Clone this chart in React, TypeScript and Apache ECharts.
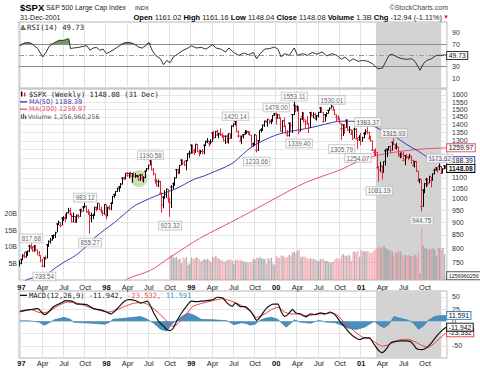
import React, { useEffect, useRef } from "react";
import * as echarts from "echarts";

// ---------- categories: weekly bars (week starting Monday) ----------
const weeks: string[] = [];
{
  const d = new Date(Date.UTC(1996, 11, 30));
  for (let i = 0; i < 262; i++) {
    weeks.push(d.toISOString().slice(0, 10));
    d.setUTCDate(d.getUTCDate() + 7);
  }
}
const MON = ["Jan", "Feb", "Mar", "Apr", "May", "Jun", "Jul", "Aug", "Sep", "Oct", "Nov", "Dec"];

// ---------- weekly price data ----------
const closes = [
  748,760,776,770,786,790,808,802,791,805,793,784,774,758,738,766,765,813,825,830,847,848,858,893,899,887,917,917,915,939,947,934,901,924,899,929,924,951,945,965,967,944,942,915,928,928,963,955,980,953,947,936,
  975,928,962,958,980,1012,1020,1034,1049,1056,1069,1099,1095,1123,1111,1123,1108,1121,1108,1109,1110,1091,1114,1099,1101,1133,1146,1164,1187,1141,1121,1089,1063,1081,1027,974,1009,1020,1045,1003,984,1056,1071,1099,1141,1126,1164,1192,1177,1166,1188,1226,1229,
  1275,1243,1235,1280,1239,1230,1239,1238,1275,1295,1299,1283,1294,1348,1319,1357,1335,1345,1338,1330,1302,1328,1294,1343,1315,1391,1403,1419,1357,1329,1300,1328,1337,1348,1357,1352,1335,1277,1283,1336,1247,1302,1363,1370,1396,1422,1417,1433,1417,1421,1458,1469,
  1441,1465,1441,1360,1424,1387,1346,1333,1409,1395,1464,1527,1499,1516,1357,1435,1452,1433,1421,1407,1378,1477,1457,1464,1441,1455,1479,1510,1480,1420,1463,1472,1492,1506,1521,1495,1466,1449,1437,1409,1374,1397,1380,1427,1366,1368,1342,1315,1370,1312,1306,1320,
  1298,1319,1343,1355,1349,1315,1302,1246,1234,1233,1151,1140,1160,1128,1184,1243,1253,1267,1246,1292,1278,1261,1265,1214,1225,1224,1191,1216,1211,1206,1214,1190,1162,1185,1134,1086,1093,966,1041,1071,1092,1073,1105,1087,1120,1139,1150,1139,1158,1123,1145,1161,1148.08,
];
const highs = [
  757,763,777,787,787,791,812,818,807,812,812,796,790,775,762,767,774,813,829,838,848,851,862,893,906,900,918,925,936,941,960,961,936,940,925,932,932,956,958,967,983,970,955,945,940,935,964,966,982,980,966,950,
  976,975,965,972,985,1013,1024,1035,1052,1060,1074,1101,1105,1124,1129,1124,1131,1122,1130,1123,1114,1111,1116,1120,1108,1137,1150,1167,1191,1188,1150,1122,1093,1092,1085,1028,1010,1040,1047,1045,1003,1064,1077,1103,1142,1146,1165,1193,1193,1189,1190,1229,1244,
  1278,1275,1255,1283,1282,1250,1248,1253,1277,1300,1316,1300,1310,1350,1362,1360,1368,1347,1375,1348,1334,1330,1339,1344,1345,1392,1407,1420,1419,1362,1332,1331,1339,1366,1362,1360,1359,1336,1290,1338,1336,1304,1363,1374,1398,1424,1425,1436,1430,1435,1460,1474,
  1478,1466,1465,1445,1425,1445,1395,1365,1410,1413,1466,1553,1527,1527,1517,1440,1482,1480,1432,1455,1410,1478,1484,1480,1476,1462,1482,1512,1517,1482,1465,1480,1496,1512,1530,1522,1497,1466,1460,1445,1410,1400,1400,1432,1432,1390,1368,1365,1380,1378,1320,1334,
  1347,1325,1354,1370,1383,1355,1330,1303,1250,1257,1236,1160,1183,1162,1184,1253,1253,1268,1272,1294,1316,1280,1287,1265,1234,1237,1236,1218,1225,1215,1226,1215,1193,1186,1188,1136,1096,1093,1042,1075,1100,1098,1111,1105,1121,1146,1152,1151,1174,1160,1148,1164,1161,
];
const lows = [
  737,744,758,765,766,773,786,795,787,788,789,775,771,750,737,734,759,764,805,817,828,835,838,860,888,879,887,905,900,914,936,927,900,900,898,899,915,922,940,945,959,940,930,855,900,912,928,945,953,950,936,925,
  931,912,924,950,950,977,1005,1014,1032,1033,1050,1067,1090,1093,1106,1098,1103,1076,1104,1100,1102,1085,1085,1083,1077,1099,1133,1142,1164,1138,1112,1072,1058,1055,1020,940,958,1000,1005,983,923,960,1044,1061,1098,1117,1121,1164,1165,1160,1138,1188,1204,
  1227,1226,1220,1232,1237,1212,1225,1224,1223,1269,1287,1267,1280,1294,1310,1317,1329,1315,1330,1318,1295,1282,1288,1284,1310,1315,1384,1394,1351,1320,1297,1281,1314,1337,1342,1336,1332,1263,1268,1276,1234,1242,1296,1351,1360,1385,1410,1387,1405,1403,1418,1455,
  1400,1438,1436,1357,1350,1386,1344,1325,1325,1355,1347,1461,1480,1485,1339,1356,1430,1413,1375,1400,1346,1378,1452,1440,1430,1425,1445,1475,1478,1412,1420,1450,1470,1490,1505,1490,1460,1421,1426,1407,1306,1330,1342,1380,1360,1347,1335,1306,1315,1310,1254,1300,
  1275,1295,1315,1337,1340,1307,1295,1242,1215,1214,1148,1081,1131,1091,1126,1163,1208,1245,1232,1244,1275,1250,1250,1210,1202,1203,1186,1165,1198,1191,1200,1171,1158,1153,1130,1085,1073,945,965,1026,1055,1060,1073,1054,1085,1117,1136,1126,1139,1119,1123,1144,1148,
];

// weekly volume in billions, starting at week index volStartIdx
const volStartIdx = 92;
const volumesB = [
  7.2,7.5,6.8,6.6,7.0,6.2,6.5,5.0,6.8,6.5,6.9,4.6,5.0,
  6.8,6.5,6.4,6.9,6.6,6.2,5.6,6.0,6.3,6.1,6.4,5.9,5.4,7.0,6.8,7.2,6.6,6.4,6.0,5.9,5.5,5.6,6.2,6.0,6.3,5.8,4.8,6.0,6.2,5.9,6.1,5.8,5.7,5.3,5.5,5.1,5.4,5.5,6.4,6.2,6.8,6.5,7.0,6.6,6.4,6.3,4.9,6.6,6.2,6.7,5.0,4.6,
  7.2,6.8,6.6,7.3,7.4,6.9,6.8,7.0,7.6,7.3,8.2,8.6,8.0,8.8,9.2,7.0,6.9,7.2,6.9,6.5,6.3,6.6,6.2,6.4,6.1,5.9,5.6,6.3,6.4,6.2,5.7,5.8,5.5,5.2,5.4,5.6,6.3,6.6,6.5,6.3,7.4,7.8,7.3,7.2,7.6,7.4,5.8,8.4,8.6,8.2,8.8,7.0,
  9.0,8.6,8.8,8.5,8.7,8.3,8.1,8.4,9.0,9.2,9.8,10.4,9.6,10.0,10.2,9.6,9.3,8.8,9.0,8.6,7.4,8.4,8.3,8.9,8.6,7.7,6.9,7.6,7.4,7.6,7.2,7.0,7.3,7.6,6.9,8.4,2.1,15.6,
  10.4,9.6,9.4,9.2,9.4,9.3,9.6,9.1,7.2,9.8,9.6,9.0,9.7,7.8,1.25696,
];

// moving averages: [week index, value]
const ma50Pts: [number, number][] = [
  [3,690],[6,697],[15,706],[21,729],[27,751],[34,774],[40,803],[46,840],[52,870],[58,899],[64,934],[70,968],[76,990],[83,1013],[89,1029],[95,1045],[101,1069],[107,1094],[113,1110],[119,1131],[125,1152],[131,1180],[135,1212],[141,1258],[147,1292],[153,1320],[159,1342],[165,1356],[171,1367],[177,1378],[183,1392],[190,1410],[196,1421],[202,1421],[207,1418],[213,1407],[219,1377],[225,1348],[231,1317],[237,1278],[244,1241],[250,1206],[255,1192],[261,1188.39],
];
const ma200Pts: [number, number][] = [
  [62,680],[66,697],[80,724],[92,768],[110,836],[135,920],[155,997],[175,1077],[196,1140],[206,1180],[216,1211],[223,1225],[230,1236],[238,1246],[246,1253],[254,1257],[261,1259.97],
];

// peak / trough annotations
const annIdx = [7, 15, 40, 43, 80, 92, 132, 145, 157, 168, 171, 191, 197, 207, 213, 220, 229, 246, 257];
const annVal = [817.68, 733.54, 983.12, 855.27, 1190.58, 923.32, 1420.14, 1233.66, 1478.0, 1553.11, 1339.4, 1530.01, 1305.79, 1254.07, 1383.37, 1081.19, 1315.93, 944.75, 1173.62];
const annSide = ["top","bottom","top","bottom","top","bottom","top","bottom","top","top","bottom","top","bottom","bottom","top","bottom","top","bottom","top"];
const circlePt: [number, number] = [73, 1095];

// RSI(14)
const rsiPts: [number, number][] = [
  [0,66.5],[3,72],[6,72.5],[8,69],[11,62],[14,47],[16,55],[18,66],[21,72],[24,76.5],[27,76.5],[29,79],[30,79],[31,62],[33,63],[36,64],[39,66],[41,67],[43,59],[45,63],[47,64],[49,59],[51,61],[53,53],[55,56],[58,61],[61,67],[64,72],[67,73],[70,70],[73,64],[75,63],[77,67],[79,72.5],[81,59],[83,50],[86,44],[88,33.5],[90,41],[92,37],[94,47],[97,53],[100,59],[103,63],[105,67],[108,63],[111,64],[114,61],[118,69],[120,63],[123,61],[126,56],[128,63],[131,55],[134,50],[137,54],[140,51],[143,55],[145,44],[147,53],[150,61],[153,62],[156,64.5],[158,61],[160,47],[162,53],[165,50],[168,63],[170,50],[173,53],[176,50],[179,55],[182,52],[185,56],[188,49],[191,53],[194,50],[197,43],[199,47],[202,39.5],[204,44],[207,39.5],[210,41],[213,39.5],[216,35],[219,26.5],[222,27.5],[224,39],[226,50],[228,52],[231,47],[234,44],[237,43],[240,44],[242,39],[245,23.6],[247,35],[249,41],[252,44],[255,50],[258,50],[260,51],[261,49.73],
];

// MACD(12,26,9)
const macdPts: [number, number][] = [
  [0,20.4],[6,23.7],[11,26],[15,13.5],[17,17],[21,30.6],[25,37],[28,42],[32,41],[35,35],[38,35],[41,34],[45,25.8],[49,23.7],[53,19],[56,15],[58,20],[61,30.6],[64,40.8],[67,44],[71,42],[74,37],[78,41],[82,17],[85,0],[88,-10],[90,-17],[92,-19],[94,-13.7],[96,0],[99,17],[102,30.6],[105,41],[108,40],[111,41],[114,42],[118,44],[121,49],[124,48],[127,37],[130,30.6],[132,37],[135,30],[138,30],[141,21.6],[143,12],[145,2],[147,8],[151,27],[155,35],[158,35],[160,20],[162,10],[164,13.6],[167,23.7],[169,17],[172,15],[175,9],[178,15],[181,13.6],[184,17],[187,15],[190,19],[193,13],[196,0],[199,-12],[202,-24],[205,-32.7],[208,-37.4],[211,-34],[214,-34],[217,-47.6],[220,-61],[222,-64],[224,-58],[227,-44],[230,-41],[233,-40],[236,-40],[239,-41],[241,-47.6],[243,-56],[246,-58],[249,-54],[252,-44],[255,-30.6],[259,-17],[261,-11.942],
];
const signalPts: [number, number][] = [
  [0,19],[7,23.7],[13,17],[17,19],[23,30.6],[29,39.4],[35,37],[41,30.6],[47,23.7],[54,19],[58,21.5],[64,30],[70,37],[75,38],[78,35],[84,20],[90,0],[93,-10],[96,-7],[99,3],[102,15],[106,30.6],[112,37],[118,42],[124,46],[131,39.4],[137,30],[141,20.4],[145,8],[150,15],[154,23.7],[158,28.6],[162,19],[166,15],[170,15],[174,12],[178,12],[182,15],[186,15],[190,17],[194,13.6],[198,0],[202,-12],[206,-23.8],[210,-32.7],[214,-35.4],[218,-44],[222,-51],[226,-47.6],[230,-41],[234,-37],[238,-37],[242,-42],[246,-49],[250,-53],[254,-44],[259,-29],[261,-23.532],
];
const histPts: [number, number][] = [
  [0,1],[6,1],[12,-2],[15,-8],[18,-3],[21,3],[27,8],[31,4],[33,-2],[38,-3],[44,-4],[52,-6],[55,-2],[57,4],[64,6],[74,10],[78,4],[82,-4],[86,-16],[90,-20],[93,-6],[96,2],[100,12],[103,17],[107,12],[111,4],[119,3],[127,1],[131,-7],[136,-3],[139,-5],[141,-8],[144,-6],[147,2],[150,6],[154,8],[158,4],[161,-6],[163,-12],[166,-4],[168,3],[172,-2],[178,-4],[183,2],[188,-2],[193,-3],[197,-8],[201,-14],[206,-17],[211,-12],[215,-4],[217,0],[220,-8],[223,-13],[226,-6],[229,10],[233,6],[238,2],[241,-4],[244,-16],[247,-10],[250,2],[254,10],[258,12],[261,11.591],
];

// ticks & header values
const priceGridTicks = [750,800,850,900,950,1000,1050,1100,1150,1200,1250,1300,1350,1400,1450,1500,1550,1600];
const priceLabelTicks = [750,800,850,900,950,1000,1050,1100,1300,1350,1400,1450,1500,1550,1600];
const rsiTicks = [10, 30, 70, 90];
const macdTicks = [50, 25, 0, -50];
const volTicks = [5, 10, 15, 20];
const shadeFrom = 218;
const shadeTo = 258;
const hdr = { open: "1161.02", high: "1161.16", low: "1148.04", close: "1148.08", volume: "1.3B", chg: "-12.94 (-1.11%)", date: "31-Dec-2001" };
const lastVolume = "1256960256";

const AF = "Liberation Sans";
const SF = "DejaVu Sans";
const MF = "DejaVu Sans Mono";
const UP = "#000";
const DOWN = "#e0283a";
const BLUE = "#3a3ab0";
const PINK = "#e8506e";
const L = (v: number) => Math.log10(v);

const monthOf = (s: string) => +s.slice(5, 7) - 1;
const isQuarterStart = (idx: number) =>
  idx > 0 && monthOf(weeks[idx]) !== monthOf(weeks[idx - 1]) && monthOf(weeks[idx]) % 3 === 0;

function box(text: string, border: string, bold = false, size = 6.8) {
  return {
    show: true,
    formatter: text,
    distance: 1,
    fontFamily: AF,
    fontSize: size,
    fontWeight: bold ? "bold" : "normal",
    color: "#111",
    backgroundColor: "#fff",
    borderColor: border,
    borderWidth: 1,
    padding: [0, 1.5, 0, 1.5],
    lineHeight: 7,
  };
}

function buildOption(): any {
  const grids = [
    { left: 19, right: 33, top: 22, height: 66 },
    { left: 19, right: 33, top: 89, height: 191 },
    { left: 19, right: 33, top: 291, height: 67 },
  ].map((g) => ({ ...g, show: true, borderColor: "#b4b4b4", borderWidth: 1, backgroundColor: "rgba(0,0,0,0)" }));

  const xAxes = [0, 1, 2].map((g) => ({
    type: "category",
    gridIndex: g,
    data: weeks,
    boundaryGap: true,
    axisLine: { show: false },
    axisTick: { show: false },
    axisLabel: {
      show: g > 0,
      interval: (idx: number) => isQuarterStart(idx),
      formatter: (v: string) => {
        const m = monthOf(v);
        return m === 0 ? `{y|${v.slice(2, 4)}}` : `{m|${MON[m]}}`;
      },
      margin: g === 1 ? 3 : 1.5,
      rich: {
        y: { fontFamily: AF, fontSize: 7.5, fontWeight: "bold", color: "#111" },
        m: { fontFamily: AF, fontSize: 7.5, color: "#222" },
      },
    },
    splitLine: { show: true, interval: (idx: number) => isQuarterStart(idx), lineStyle: { color: "#e3e3e3", width: 1 } },
  }));

  const tickLabel = { fontFamily: AF, fontSize: 7, color: "#333", margin: 5 };
  const yAxes = [
    {
      type: "value", gridIndex: 0, position: "right", min: -7.6, max: 108.8,
      axisLine: { show: false }, axisTick: { show: false, customValues: [10, 30, 50, 70, 90] },
      axisLabel: { ...tickLabel, customValues: rsiTicks },
      splitLine: { show: false },
    },
    {
      type: "value", gridIndex: 1, position: "right", min: 2.8407, max: 3.2159,
      axisLine: { show: false }, axisTick: { show: false, customValues: priceGridTicks.map(L) },
      axisLabel: { ...tickLabel, customValues: priceLabelTicks.map(L), formatter: (v: number) => String(Math.round(Math.pow(10, v))) },
      splitLine: { show: true, lineStyle: { color: "#e6e6e6", width: 1 } },
    },
    {
      type: "value", gridIndex: 1, position: "left", min: 0, max: 57.5,
      axisLine: { show: false }, axisTick: { show: false, customValues: volTicks },
      axisLabel: { ...tickLabel, margin: 2, customValues: volTicks, formatter: (v: number) => `${v}B` },
      splitLine: { show: false },
    },
    {
      type: "value", gridIndex: 2, position: "right", min: -74.9, max: 61.8,
      axisLine: { show: false }, axisTick: { show: false, customValues: [50, 25, 0, -25, -50] },
      axisLabel: { ...tickLabel, customValues: macdTicks },
      splitLine: { show: true, lineStyle: { color: "#e6e6e6", width: 1 } },
    },
  ];

  const shade = (xi: number, yi: number) => ({
    type: "line", xAxisIndex: xi, yAxisIndex: yi, data: [], silent: true, z: 1,
    markArea: { silent: true, itemStyle: { color: "#d3d3d3" }, data: [[{ xAxis: weeks[shadeFrom] }, { xAxis: weeks[shadeTo] }]] },
  });

  const candleData = closes.map((c, i) => [L(c), L(c), L(lows[i]), L(highs[i])]);
  const volData = weeks.map((_, i) =>
    i < volStartIdx
      ? "-"
      : {
          value: volumesB[i - volStartIdx],
          itemStyle: { color: closes[i] >= closes[i - 1] ? "rgba(150,150,150,0.7)" : "rgba(238,140,152,0.65)" },
        }
  );
  const volLine = weeks.map((_, i) => (i < volStartIdx ? "-" : volumesB[i - volStartIdx]));

  const series: any[] = [
    shade(0, 0),
    shade(1, 1),
    shade(2, 3),
    // RSI
    {
      type: "line", xAxisIndex: 0, yAxisIndex: 0, z: 3, silent: true,
      data: rsiPts.map(([i, v]) => [i, Math.max(v, 70)]),
      symbol: "none", lineStyle: { width: 0 }, areaStyle: { origin: 70, color: "#6e9c60", opacity: 1 },
    },
    {
      type: "line", xAxisIndex: 0, yAxisIndex: 0, z: 4, silent: true,
      data: rsiPts, symbol: "none", lineStyle: { color: "#333", width: 1 },
      endLabel: box("49.73", "#333"),
      markLine: {
        silent: true, z: 3, symbol: ["none", "none"], label: { show: false },
        lineStyle: { color: "#8c8c8c", width: 1, type: "solid" },
        data: [{ yAxis: 70 }, { yAxis: 30 }, { yAxis: 50, lineStyle: { type: [5, 2, 1, 2], color: "#9a9a9a" } }],
      },
    },
    // volume
    {
      type: "bar", xAxisIndex: 1, yAxisIndex: 2, z: 2, silent: true, data: volData, barCategoryGap: "15%",
    },
    {
      type: "line", xAxisIndex: 1, yAxisIndex: 2, z: 2, silent: true, data: volLine, symbol: "none",
      lineStyle: { opacity: 0 }, endLabel: box(lastVolume, "#555", false, 5.4),
    },
    // moving averages
    {
      type: "line", xAxisIndex: 1, yAxisIndex: 1, z: 3, silent: true, smooth: 0.3,
      data: ma200Pts.map(([i, p]) => [i, L(p)]), symbol: "none", lineStyle: { color: PINK, width: 1 },
      endLabel: box("1259.97", PINK),
    },
    {
      type: "line", xAxisIndex: 1, yAxisIndex: 1, z: 3, silent: true, smooth: 0.3,
      data: ma50Pts.map(([i, p]) => [i, L(p)]), symbol: "none", lineStyle: { color: BLUE, width: 1 },
      endLabel: box("1188.39", BLUE),
    },
    // annotation circle
    {
      type: "scatter", xAxisIndex: 1, yAxisIndex: 1, z: 3, silent: true,
      data: [[circlePt[0], L(circlePt[1])]], symbolSize: 17, itemStyle: { color: "rgba(140,196,100,0.62)" },
    },
    // price bars
    {
      type: "candlestick", xAxisIndex: 1, yAxisIndex: 1, z: 4, silent: true, data: candleData, barWidth: 2,
      itemStyle: { color: UP, color0: DOWN, borderColor: UP, borderColor0: DOWN, borderWidth: 1 },
    },
    {
      type: "line", xAxisIndex: 1, yAxisIndex: 1, z: 5, silent: true,
      data: closes.map((c, i) => [i, L(c)]), symbol: "none", lineStyle: { opacity: 0 },
      endLabel: box("1148.08", "#000", true),
    },
    // peak/trough labels
    {
      type: "scatter", xAxisIndex: 1, yAxisIndex: 1, z: 6, silent: true, symbolSize: 0.1,
      itemStyle: { color: "rgba(0,0,0,0)" },
      data: annIdx.map((i, k) => ({
        value: [i, L(annVal[k])],
        name: annVal[k].toFixed(2),
        label: { position: annSide[k], distance: annSide[k] === "top" ? 1 : 5 },
      })),
      label: {
        show: true, formatter: "{b}", fontFamily: AF, fontSize: 6.3, color: "#333",
        backgroundColor: "rgba(255,255,255,0.92)", borderColor: "#b8b8b8", borderWidth: 0.8,
        padding: [0.5, 1.5, 0, 1.5], lineHeight: 7.5,
      },
    },
    // MACD
    {
      type: "line", xAxisIndex: 2, yAxisIndex: 3, z: 2, silent: true,
      data: histPts, symbol: "none", lineStyle: { color: "#2f78a8", width: 0.6 },
      areaStyle: { color: "#4a8fbd", opacity: 1 },
      endLabel: box("11.591", "#3a8ac0"),
    },
    {
      type: "line", xAxisIndex: 2, yAxisIndex: 3, z: 3, silent: true,
      data: signalPts, symbol: "none", smooth: 0.2, lineStyle: { color: "#f03c3c", width: 1 },
      endLabel: box("-23.532", "#f03c3c"),
    },
    {
      type: "line", xAxisIndex: 2, yAxisIndex: 3, z: 4, silent: true,
      data: macdPts, symbol: "none", smooth: 0.2, lineStyle: { color: "#111", width: 1.2 },
      endLabel: box("-11.942", "#111"),
    },
  ];

  const t = (x: number, y: number, text: string, font: string, fill = "#111", align = "left") => ({
    type: "text", x, y, silent: true, z: 10,
    style: { text, font, fill, textAlign: align, textVerticalAlign: "middle" },
  });
  const hdrRich = {
    b: { fontFamily: AF, fontSize: 7.5, fontWeight: "bold", fill: "#000" },
    n: { fontFamily: AF, fontSize: 7.5, fill: "#222" },
  };
  const hdrText =
    `{b|Open} {n|${hdr.open}} {b|High} {n|${hdr.high}} {b|Low} {n|${hdr.low}} {b|Close} {n|${hdr.close}} ` +
    `{b|Volume} {n|${hdr.volume}} {b|Chg} {n|${hdr.chg}}`;

  const graphic: any[] = [
    t(20, 7.5, "$SPX", `bold 9.5px "${AF}"`, "#000"),
    t(46, 7.5, "S&P 500 Large Cap Index", `6.9px "${AF}"`, "#222"),
    t(135, 7.5, "INDX", `5.8px "${AF}"`, "#222"),
    t(448, 7.5, "©StockCharts.com", `7px "${AF}"`, "#444", "right"),
    t(20, 17.5, hdr.date, `7px "${AF}"`, "#222"),
    {
      type: "text", x: 442, y: 17.5, silent: true, z: 10,
      style: { text: hdrText, rich: hdrRich, textAlign: "right", textVerticalAlign: "middle", font: `7.5px "${AF}"` },
    },
    { type: "polygon", silent: true, z: 10, shape: { points: [[444, 15.5], [448, 15.5], [446, 19]] }, style: { fill: DOWN } },
    // RSI legend
    { type: "polygon", silent: true, z: 10, shape: { points: [[21, 29.5], [23, 25], [24, 27.5], [25.5, 29.5]] }, style: { fill: "#6e9c60", stroke: "#333", lineWidth: 0.6 } },
    t(27, 27.5, "RSI(14) 49.73", `7.3px "${MF}"`, "#222"),
    // price legend
    { type: "rect", silent: true, z: 10, shape: { x: 21, y: 91.5, width: 1.4, height: 5 }, style: { fill: "#000" } },
    { type: "rect", silent: true, z: 10, shape: { x: 24, y: 92.5, width: 1.4, height: 4 }, style: { fill: DOWN } },
    t(29, 94.3, "$SPX (Weekly) 1148.08 (31 Dec)", `7.2px "${MF}"`, "#222"),
    { type: "rect", silent: true, z: 10, shape: { x: 20, y: 101.2, width: 7, height: 1.3 }, style: { fill: BLUE } },
    t(29, 101.8, "MA(50) 1188.39", `6.6px "${SF}"`, BLUE),
    { type: "rect", silent: true, z: 10, shape: { x: 20, y: 108.6, width: 7, height: 1.3 }, style: { fill: PINK } },
    t(29, 109.2, "MA(200) 1259.97", `6.6px "${SF}"`, PINK),
    { type: "rect", silent: true, z: 10, shape: { x: 21, y: 114.5, width: 1.3, height: 4.5 }, style: { fill: "#666" } },
    { type: "rect", silent: true, z: 10, shape: { x: 23, y: 113.5, width: 1.3, height: 5.5 }, style: { fill: "#666" } },
    { type: "rect", silent: true, z: 10, shape: { x: 25, y: 115.5, width: 1.3, height: 3.5 }, style: { fill: "#666" } },
    t(28, 116.7, "Volume 1,256,960,256", `6.3px "${SF}"`, "#555"),
    // MACD legend
    { type: "rect", silent: true, z: 10, shape: { x: 20, y: 294.7, width: 7, height: 1.3 }, style: { fill: "#111" } },
    {
      type: "text", x: 29, y: 295.5, silent: true, z: 10,
      style: {
        text: "{k|MACD(12,26,9) -11.942,}{r| -23.532,}{c| 11.591}",
        textVerticalAlign: "middle",
        font: `7.1px "${MF}"`,
        rich: {
          k: { fontFamily: MF, fontSize: 7.1, fill: "#222" },
          r: { fontFamily: MF, fontSize: 7.1, fill: "#f03c3c" },
          c: { fontFamily: MF, fontSize: 7.1, fill: "#3a9ad0" },
        },
      },
    },
  ];

  return {
    animation: false,
    backgroundColor: "#fff",
    textStyle: { fontFamily: AF },
    grid: grids,
    xAxis: xAxes,
    yAxis: yAxes,
    series,
    graphic,
  };
}

export default function App() {
  const ref = useRef<HTMLDivElement>(null);
  useEffect(() => {
    if (!ref.current) return;
    const chart = echarts.init(ref.current, undefined, { renderer: "svg" });
    chart.setOption(buildOption());
    return () => chart.dispose();
  }, []);
  return (
    <div
      ref={ref}
      style={{ position: "fixed", left: 0, top: 0, width: 480, height: 370, background: "#fff" }}
    />
  );
}
